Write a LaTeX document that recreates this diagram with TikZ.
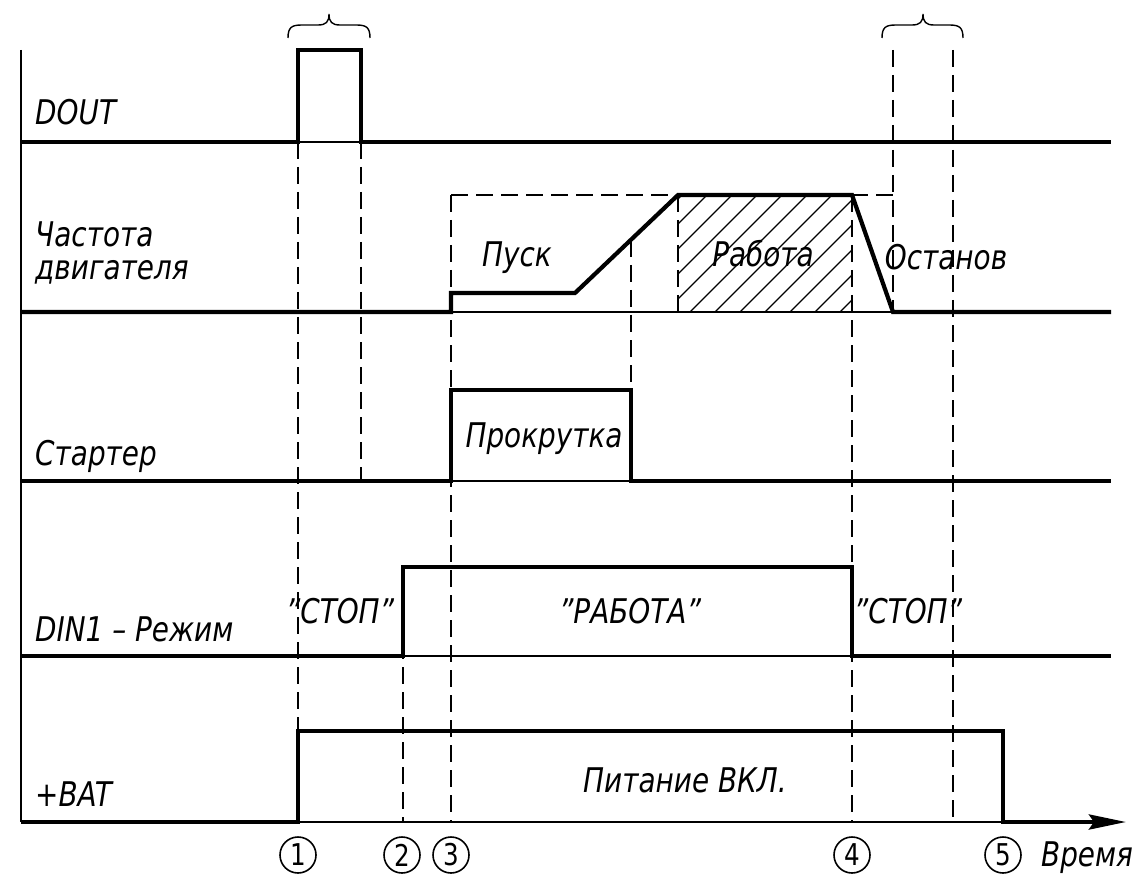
\documentclass[tikz,border=0pt]{standalone}
\usepackage{fontspec}
\setmainfont{DejaVu Sans}[FakeStretch=0.82]
\usetikzlibrary{arrows.meta}
\begin{document}
\begin{tikzpicture}[x=1pt,y=-1pt,
  sig/.style={line width=4.2pt, line join=miter},
  base/.style={line width=1.6pt},
  guide/.style={line width=1.8pt, dash pattern=on 17pt off 8pt},
  lbl/.style={font=\fontsize{34}{36}\selectfont\itshape, anchor=base west, inner sep=0pt},
  txt/.style={font=\fontsize{34}{36}\selectfont\itshape, anchor=base, inner sep=0pt},
  num/.style={circle, draw, line width=1.6pt, minimum size=36pt, inner sep=0pt, font=\fontsize{30}{30}\selectfont},
  hatch/.style={line width=1.2pt},
  brace/.style={line width=1.4pt}
]
\useasboundingbox (0,0) rectangle (1134,874);

% left axis
\draw[base] (21,50) -- (21,822);

% hatching
\begin{scope}
  \clip (678,195) rectangle (852,312);
  \foreach \i in {0,...,12} \draw[hatch] ({565+25*\i},312) -- ++(120,-120);
\end{scope}

% guide (dashed) lines
\draw[guide] (298,142) -- (298,731);
\draw[guide] (361,142) -- (361,481);
\draw[guide] (403,567) -- (403,822);
\draw[guide] (451,195) -- (451,822);
\draw[guide] (631,240) -- (631,390);
\draw[guide] (678,195) -- (678,312);
\draw[guide] (852,195) -- (852,822);
\draw[guide] (893,50) -- (893,312);
\draw[guide] (953,50) -- (953,822);
\draw[guide] (451,195) -- (893,195);

% thin baselines under high states
\draw[base] (298,142) -- (361,142);
\draw[base] (451,312) -- (893,312);
\draw[base] (451,481) -- (631,481);
\draw[base] (403,656) -- (852,656);
\draw[base] (298,822) -- (1003,822);

% signals
\draw[sig] (21,142) -- (298,142) -- (298,50) -- (361,50) -- (361,142) -- (1111,142);
\draw[sig] (21,312) -- (451,312) -- (451,293) -- (575,293) -- (678,195) -- (852,195) -- (893,312) -- (1111,312);
\draw[sig] (21,481) -- (451,481) -- (451,390) -- (631,390) -- (631,481) -- (1111,481);
\draw[sig] (21,656) -- (403,656) -- (403,567) -- (852,567) -- (852,656) -- (1111,656);
\draw[sig, -{Stealth[length=37pt,width=15pt,inset=5pt]}] (21,822) -- (298,822) -- (298,731) -- (1003,731) -- (1003,822) -- (1126,822);

% braces
\draw[brace] (288,38) .. controls (288,27) and (292,25) .. (302,25) -- (318,25) .. controls (326,25) and (329,22) .. (329,14) .. controls (329,22) and (332,25) .. (340,25) -- (356,25) .. controls (366,25) and (370,27) .. (370,38);
\draw[brace] (882,38) .. controls (882,27) and (886,25) .. (896,25) -- (912,25) .. controls (920,25) and (923,22) .. (923,14) .. controls (923,22) and (926,25) .. (934,25) -- (949,25) .. controls (959,25) and (963,27) .. (963,38);

% signal labels
\node[lbl] (ldout) at (35,125) {DOUT};
\node[lbl] (lfreq1) at (35,247) {Частота};
\node[lbl] (lfreq2) at (35,280) {двигателя};
\node[lbl] (lstart) at (35,465) {Стартер};
\node[lbl] (ldin) at (35,641) {DIN1 – Режим};
\node[lbl] (lbat) at (35,806) {+BAT};

% inner labels
\node[txt] (tpusk) at (517,267) {Пуск};
\node[txt] (trab) at (763,267) {Работа};
\node[txt] (tost) at (946,270) {Останов};
\node[txt] (tprok) at (544,447) {Прокрутка};
\node[txt] (tstop1) at (340,623) {"СТОП"};
\node[txt] (trabota) at (630,623) {"РАБОТА"};
\node[txt] (tstop2) at (908,623) {"СТОП"};
\node[txt] (tpit) at (685,792) {Питание ВКЛ.};

% circled numbers
\node[num] (n1) at (298,855) {1};
\node[num] (n2) at (402,855) {2};
\node[num] (n3) at (451,855) {3};
\node[num] (n4) at (852,855) {4};
\node[num] (n5) at (1003,855) {5};
\node[txt] (ttime) at (1087,866) {Время};
\end{tikzpicture}
\end{document}
